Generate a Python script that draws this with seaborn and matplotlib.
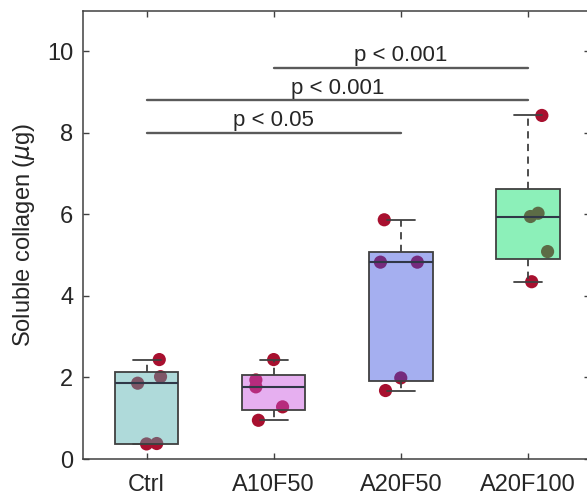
import matplotlib.pyplot as plt
import numpy as np
import pandas as pd
import seaborn as sns
from matplotlib.colors import to_rgba

GROUPS = ["Ctrl", "A10F50", "A20F50", "A20F100"]
CTRL = [2.44, 2.02, 1.86, 0.37, 0.38]
A10F50 = [2.44, 1.94, 1.77, 1.28, 0.95]
A20F50 = [5.87, 4.83, 4.83, 1.99, 1.68]
A20F100 = [8.43, 6.03, 5.95, 5.09, 4.35]
# horizontal scatter of each dot (category units)
JITTER = [
    [0.10, 0.11, -0.07, 0.00, 0.08],
    [0.00, -0.14, -0.14, 0.07, -0.12],
    [-0.13, -0.16, 0.13, 0.00, -0.12],
    [0.11, 0.08, 0.02, 0.155, 0.03],
]
BOX_COLORS = ["#4eadad", "#c84ede", "#384ede", "#00de64"]
DOT_COLOR = "#a8102f"

# (group a, group b, bar height, label)
COMPARISONS = [
    ("Ctrl", "A20F50", 8.0, "p < 0.05"),
    ("Ctrl", "A20F100", 8.8, "p < 0.001"),
    ("A10F50", "A20F100", 9.6, "p < 0.001"),
]

sns.set_theme(style="ticks")
plt.rcParams["font.family"] = ["Liberation Sans", "DejaVu Sans"]
plt.rcParams["axes.edgecolor"] = "#404040"
plt.rcParams["xtick.color"] = "#404040"
plt.rcParams["ytick.color"] = "#404040"


def matlab_box_stats(values):
    # MATLAB-style quartiles (hazen), whiskers at 1.5 IQR
    x = np.asarray(values)
    q1, med, q3 = np.percentile(x, [25, 50, 75], method="hazen")
    iqr = q3 - q1
    hi = x[x <= q3 + 1.5 * iqr].max()
    lo = x[x >= q1 - 1.5 * iqr].min()
    return {"med": med, "q1": q1, "q3": q3, "whislo": lo, "whishi": hi, "fliers": []}


def main():
    series = [CTRL, A10F50, A20F50, A20F100]
    rows = []
    for i, (name, vals) in enumerate(zip(GROUPS, series)):
        for v, j in zip(vals, JITTER[i]):
            rows.append({"group": name, "pos": i + j, "value": v})
    df = pd.DataFrame(rows)

    fig = plt.figure(figsize=(5.87, 4.98), dpi=100)
    ax = fig.add_axes([0.1414, 0.0783, 0.864, 0.9002])

    sns.scatterplot(
        data=df, x="pos", y="value", color=DOT_COLOR, s=90,
        edgecolor="none", ax=ax, zorder=1, legend=False,
    )

    stats = [matlab_box_stats(v) for v in series]
    bp = ax.bxp(
        stats,
        positions=range(len(GROUPS)),
        widths=0.5,
        capwidths=0.22,
        patch_artist=True,
        showfliers=False,
        manage_ticks=False,
        boxprops=dict(edgecolor="#404040", linewidth=1.3),
        whiskerprops=dict(color="#404040", linewidth=1.3, linestyle=(0, (4, 3))),
        capprops=dict(color="#404040", linewidth=1.3),
        medianprops=dict(color="#303848", linewidth=1.5),
        zorder=2,
    )
    for patch, c in zip(bp["boxes"], BOX_COLORS):
        patch.set_facecolor(to_rgba(c, 0.45))

    for a, b, y, label in COMPARISONS:
        xa, xb = GROUPS.index(a), GROUPS.index(b)
        ax.plot([xa, xb], [y, y], color="#5a5a5a", lw=1.7, zorder=3)
        ax.text((xa + xb) / 2, y + 0.04, label, ha="center", va="bottom",
                fontsize=16, color="#262626")

    ax.set_xlim(-0.5, 3.49)
    ax.set_ylim(0, 11)
    ax.set_xticks(range(len(GROUPS)))
    ax.set_xticklabels(GROUPS)
    ax.set_yticks([0, 2, 4, 6, 8, 10])
    ax.set_xlabel("")
    ax.set_ylabel("Soluble collagen ($\\mu$g)", fontsize=17, color="#262626", labelpad=7)
    ax.tick_params(direction="in", top=True, right=True, length=4, width=1,
                   labelsize=17, labelcolor="#262626")
    ax.tick_params(axis="x", pad=11)
    ax.tick_params(axis="y", pad=7)
    for sp in ax.spines.values():
        sp.set_linewidth(1.1)

    fig.savefig("out.png", dpi=100)
    plt.close(fig)


if __name__ == "__main__":
    main()
